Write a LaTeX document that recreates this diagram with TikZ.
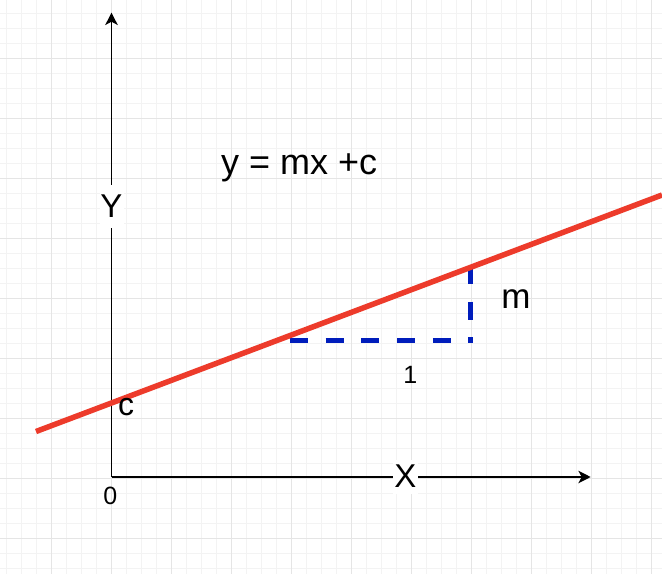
\documentclass[tikz,border=0pt]{standalone}
\usepackage{fontspec}
\setmainfont{Liberation Sans}
\usetikzlibrary{arrows.meta}
\definecolor{linered}{RGB}{237,59,43}
\definecolor{dashblue}{RGB}{0,29,188}
\definecolor{gridmajor}{RGB}{229,229,229}
\definecolor{gridminor}{RGB}{243,243,243}
\tikzset{
  minorgrid/.style={draw=gridminor, line width=1pt},
  majorgrid/.style={draw=gridmajor, line width=1pt},
  axisline/.style={draw=black, line width=1.6pt},
  axistip/.style={-{Stealth[length=12.3pt,width=12.5pt,inset=3.3pt]}},
  redline/.style={draw=linered, line width=5.5pt},
  bluedash/.style={draw=dashblue, line width=5pt, dash pattern=on 17.8pt off 17.9pt},
  axislabel/.style={fill=white, inner sep=0pt, align=center, font=\fontsize{33}{38}\selectfont},
  txt/.style={inner sep=0pt, anchor=base},
}
\begin{document}
\begin{tikzpicture}[x=1pt, y=-1pt]
  \useasboundingbox (0,0) rectangle (662,574);
  \fill[white] (0,0) rectangle (662,574);
  % grid
  \foreach \i in {0,...,43} \draw[minorgrid] ({6.5+15*\i},0) -- ({6.5+15*\i},574);
  \foreach \i in {0,...,37} \draw[minorgrid] (0,{13.3+15*\i}) -- (662,{13.3+15*\i});
  \foreach \i in {0,...,10} \draw[majorgrid] ({51.5+60*\i},0) -- ({51.5+60*\i},574);
  \foreach \i in {0,...,8} \draw[majorgrid] (0,{58.3+60*\i}) -- (662,{58.3+60*\i});

  % coordinates
  \coordinate (O) at (111.5,477);
  \coordinate (ytop) at (111.5,12.7);
  \coordinate (xend) at (590.7,477);
  \coordinate (r1) at (36,431.5);
  \coordinate (r2) at (662,195);
  \coordinate (h1) at (290,340.7);
  \coordinate (h2) at (473,340.7);
  \coordinate (v1) at (470.5,266);
  \coordinate (v2) at (470.5,342.5);

  % axis labels
  \node[axislabel, minimum width=24pt, text height=32pt, text depth=11pt, anchor=base] (Ylbl) at (111.5,217) {Y};
  \node[axislabel, minimum width=25pt, text height=27pt, text depth=6.3pt, anchor=center] (Xlbl) at (405.3,477) {X};

  % axes
  \draw[axisline, axistip] (O) -- (Ylbl) -- (ytop);
  \draw[axisline, axistip] (O) -- (Xlbl) -- (xend);

  % slope triangle
  \draw[bluedash] (h1) -- (h2);
  \draw[bluedash] (v1) -- (v2);

  % line
  \draw[redline] (r1) -- (r2);

  % texts
  \node[txt, anchor=base west, font=\fontsize{36}{40}\selectfont] (eq) at (221,174.3) {y = mx +c};
  \node[txt, font=\fontsize{32}{36}\selectfont] (clbl) at (126,415) {c};
  \node[txt, font=\fontsize{35}{40}\selectfont] (mlbl) at (516,308.3) {m};
  \node[txt, font=\fontsize{25}{30}\selectfont] (one) at (410.2,383.3) {1};
  \node[txt, font=\fontsize{25}{30}\selectfont] (zero) at (110.4,504.3) {0};
\end{tikzpicture}
\end{document}
